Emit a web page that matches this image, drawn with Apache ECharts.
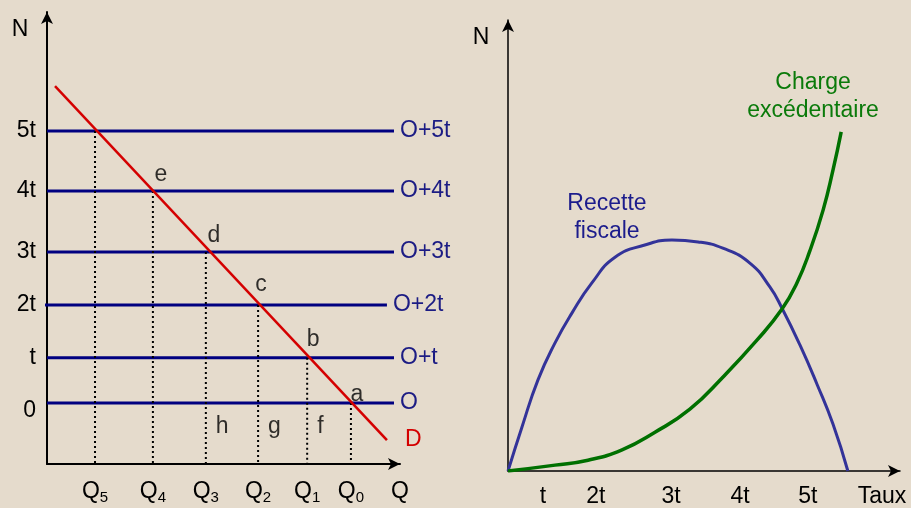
<!DOCTYPE html>
<html>
<head>
<meta charset="utf-8">
<script src="https://cdn.jsdelivr.net/npm/echarts@6/dist/echarts.min.js"></script>
<style>
html,body{margin:0;padding:0;background:#e5dbcc;}
#main{width:911px;height:508px;}
</style>
</head>
<body>
<div id="main"></div>
<script>
// ---- panneau gauche : offre O+kt et demande D ----
var levelNames = ['0', 't', '2t', '3t', '4t', '5t'];
var levelValues = [13.5, 23.5, 35.2, 46.9, 60.4, 73.7];
var levelLabels = ['O', 'O+t', 'O+2t', 'O+3t', 'O+4t', 'O+5t'];
var levelFrom = [0, 0, -2.3, 0, 0, 0];
var levelTo = [98.3, 98.3, 96.3, 98.3, 98.3, 98.3];

var qNames = ['Q0', 'Q1', 'Q2', 'Q3', 'Q4', 'Q5'];
var qValues = [86.1, 73.7, 59.8, 45.0, 30.0, 13.6];
var pointNames = ['a', 'b', 'c', 'd', 'e'];
var zoneNames = ['f', 'g', 'h'];
var zoneLevel = 8.2;

var demandLine = [[2.27, 83.6], [96.3, 5.3]];

// ---- panneau droit : recette fiscale / charge excedentaire ----
var tauxNames = ['t', '2t', '3t', '4t', '5t', 'Taux'];
var tauxValues = [8.9, 22.4, 41.6, 59.2, 76.5, 95.4];
var recette = [[0, 0], [3.57, 9.76], [7.65, 20.2], [12.0, 28.4], [16.3, 35.0], [21.4, 41.7],
	[27.3, 47.4], [34.9, 50.1], [41.8, 51.2], [48.5, 50.8], [54.8, 49.4], [61.7, 46.1],
	[66.8, 40.8], [69.9, 36.1], [74.5, 27.9], [78.8, 19.3], [82.9, 10.4], [86.7, 0]];
var charge = [[0, 0], [12.0, 1.3], [20.4, 2.4], [29.1, 4.7], [37.5, 8.6], [46.4, 13.7],
	[54.8, 20.8], [63.5, 29.0], [69.9, 35.9], [73.7, 41.7], [77.0, 48.8], [80.4, 57.9],
	[82.9, 66.7], [85.0, 75.2]];

var font = "'Liberation Sans', Arial, sans-serif";
var fs = 23;
var navy = '#000080';
var navyText = '#1c1c84';

var myChart = echarts.init(document.getElementById('main'));

var series = [];
// droites horizontales O, O+t ...
for (var i = 0; i < levelValues.length; i++) {
	series.push({
		type: 'line', xAxisIndex: 0, yAxisIndex: 0,
		name: levelLabels[i],
		data: [[levelFrom[i], levelValues[i]], [levelTo[i], levelValues[i]]],
		symbol: 'none', clip: false, silent: true,
		lineStyle: {color: navy, width: 3},
		endLabel: {show: true, formatter: levelLabels[i], color: navyText, fontSize: fs, fontFamily: font, distance: 6}
	});
}
// pointilles
for (var i = 0; i < qValues.length; i++) {
	series.push({
		type: 'line', xAxisIndex: 0, yAxisIndex: 0,
		data: [[qValues[i], levelValues[i]], [qValues[i], 0]],
		symbol: 'none', silent: true,
		lineStyle: {color: '#000', width: 2, type: [2, 3]}
	});
}
// demande
series.push({
	type: 'line', xAxisIndex: 0, yAxisIndex: 0,
	data: demandLine, symbol: 'none', silent: true, z: 3,
	lineStyle: {color: '#d40000', width: 2.5},
	endLabel: {show: true, formatter: 'D', color: '#d40000', fontSize: fs, fontFamily: font, distance: 18}
});
// points a..e
var pointOffsets = [[6, 8], [6, -2], [3, -4], [8, 0], [8, 0]];
var pts = [];
for (var i = 0; i < pointNames.length; i++) {
	pts.push({value: [qValues[i], levelValues[i]], name: pointNames[i], label: {offset: pointOffsets[i]}});
}
series.push({
	type: 'scatter', xAxisIndex: 0, yAxisIndex: 0, symbolSize: 0, data: pts, silent: true,
	label: {show: true, position: 'top', distance: 5, formatter: '{b}', color: '#000', fontSize: fs, fontFamily: font}
});
// zones f, g, h
var zones = [];
for (var i = 0; i < zoneNames.length; i++) {
	zones.push({value: [qValues[i + 1], zoneLevel], name: zoneNames[i]});
}
series.push({
	type: 'scatter', xAxisIndex: 0, yAxisIndex: 0, symbolSize: 0, data: zones, silent: true,
	label: {show: true, position: 'right', distance: 10, formatter: '{b}', color: '#000', fontSize: fs, fontFamily: font}
});
// courbes droite
series.push({
	type: 'line', xAxisIndex: 1, yAxisIndex: 1, data: recette, smooth: 0.5,
	symbol: 'none', silent: true, lineStyle: {color: '#333399', width: 3}
});
series.push({
	type: 'line', xAxisIndex: 1, yAxisIndex: 1, data: charge, smooth: 0.5,
	symbol: 'none', silent: true, lineStyle: {color: '#007000', width: 3.5}
});

myChart.setOption({
	backgroundColor: '#e5dbcc',
	animation: false,
	textStyle: {fontFamily: font},
	grid: [
		{left: 47, right: 511, top: 12, bottom: 44},
		{left: 508, right: 11, top: 20, bottom: 37}
	],
	xAxis: [{
		type: 'value', gridIndex: 0, min: 0, max: 100,
		splitLine: {show: false},
		axisLine: {lineStyle: {color: '#000', width: 2}, symbol: ['none', 'arrow'], symbolSize: [9, 12]},
		axisTick: {show: false},
		axisLabel: {
			customValues: qValues.concat([100]),
			margin: 15,
			formatter: function (v) {
				var k = qValues.indexOf(v);
				if (k < 0) return '{q|Q}';
				return '{q|Q}{s|' + qNames[k].substring(1) + '}';
			},
			rich: {
				q: {fontSize: fs, color: '#000', fontFamily: font, lineHeight: 26},
				s: {fontSize: 15, color: '#000', fontFamily: font, lineHeight: 26, padding: [12, 0, 0, 0]}
			}
		}
	}, {
		type: 'value', gridIndex: 1, min: 0, max: 100,
		splitLine: {show: false},
		axisLine: {lineStyle: {color: '#000', width: 1.5}, symbol: ['none', 'arrow'], symbolSize: [9, 12]},
		axisTick: {show: false},
		axisLabel: {
			customValues: tauxValues,
			margin: 14, color: '#000', fontSize: fs, fontFamily: font,
			formatter: function (v) {
				return tauxNames[tauxValues.indexOf(v)];
			}
		}
	}],
	yAxis: [{
		type: 'value', gridIndex: 0, min: 0, max: 100,
		splitLine: {show: false},
		axisLine: {lineStyle: {color: '#000', width: 2}, symbol: ['none', 'arrow'], symbolSize: [9, 12]},
		axisTick: {show: false},
		axisLabel: {
			customValues: levelValues,
			margin: 11, color: '#000', fontSize: fs, fontFamily: font,
			formatter: function (v) {
				var k = levelValues.indexOf(v);
				// le "0" est un peu sous sa droite
				return k === 0 ? '{z|' + levelNames[k] + '}' : levelNames[k];
			},
			rich: {
				z: {fontSize: fs, color: '#000', fontFamily: font, padding: [16, 0, 0, 0]}
			}
		}
	}, {
		type: 'value', gridIndex: 1, min: 0, max: 100,
		splitLine: {show: false},
		axisLine: {lineStyle: {color: '#000', width: 1.5}, symbol: ['none', 'arrow'], symbolSize: [9, 12]},
		axisTick: {show: false},
		axisLabel: {show: false}
	}],
	graphic: [
		{type: 'text', style: {text: 'N', x: 20, y: 30, align: 'center', verticalAlign: 'middle', fill: '#000', font: fs + 'px ' + font}},
		{type: 'text', style: {text: 'N', x: 481, y: 38, align: 'center', verticalAlign: 'middle', fill: '#000', font: fs + 'px ' + font}},
		{type: 'text', style: {text: 'Recette\nfiscale', x: 607, y: 218, align: 'center', verticalAlign: 'middle', lineHeight: 28, fill: '#1c1c8c', font: fs + 'px ' + font}},
		{type: 'text', style: {text: 'Charge\nexcédentaire', x: 813, y: 97, align: 'center', verticalAlign: 'middle', lineHeight: 28, fill: '#0a7a0a', font: fs + 'px ' + font}}
	],
	series: series
});
</script>
</body>
</html>
